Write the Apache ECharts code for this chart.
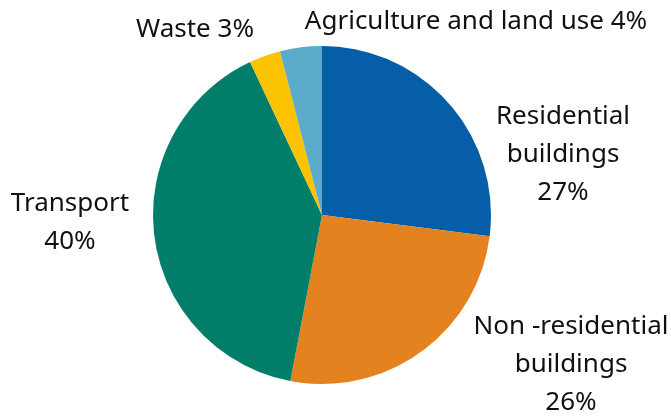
<!DOCTYPE html>
<html>
<head>
<meta charset="utf-8">
<script src="https://cdn.jsdelivr.net/npm/echarts@6/dist/echarts.min.js"></script>
<style>
  html, body { margin: 0; padding: 0; background: #fff; }
  #chart { width: 671px; height: 416px; }
</style>
</head>
<body>
<div id="chart"></div>
<script>
// 数据
const sectors = ['Residential\nbuildings', 'Non -residential\nbuildings', 'Transport', 'Waste', 'Agriculture and land use']
const shares = [27, 26, 40, 3, 4]
const colors = ['#055ea7', '#e3821e', '#007e69', '#fbc300', '#5cabcb']

// label anchor per slice (centre of text block)
const labelPos = [
  { x: 563, y: 155 },
  { x: 571, y: 365 },
  { x: 70, y: 223 },
  { x: 195, y: 30 },
  { x: 476, y: 22 }
]

const chart = echarts.init(document.getElementById('chart'))

chart.setOption({
  animation: false,
  series: [
    {
      type: 'pie',
      center: [322, 215],
      radius: 169,
      startAngle: 90,
      clockwise: true,
      data: sectors.map((name, i) => ({
        name: name,
        value: shares[i],
        itemStyle: { color: colors[i] }
      })),
      label: {
        show: true,
        formatter: params => {
          const sep = params.dataIndex >= 3 ? ' ' : '\n'
          return params.name + sep + params.value + '%'
        },
        fontFamily: 'Noto Sans',
        fontSize: 26,
        lineHeight: 38,
        color: '#111',
        align: 'center',
        overflow: 'none'
      },
      labelLine: { show: false },
      labelLayout: params => {
        const p = labelPos[params.dataIndex]
        return { x: p.x, y: p.y, align: 'center', verticalAlign: 'middle', width: 400 }
      }
    }
  ]
})
</script>
</body>
</html>
